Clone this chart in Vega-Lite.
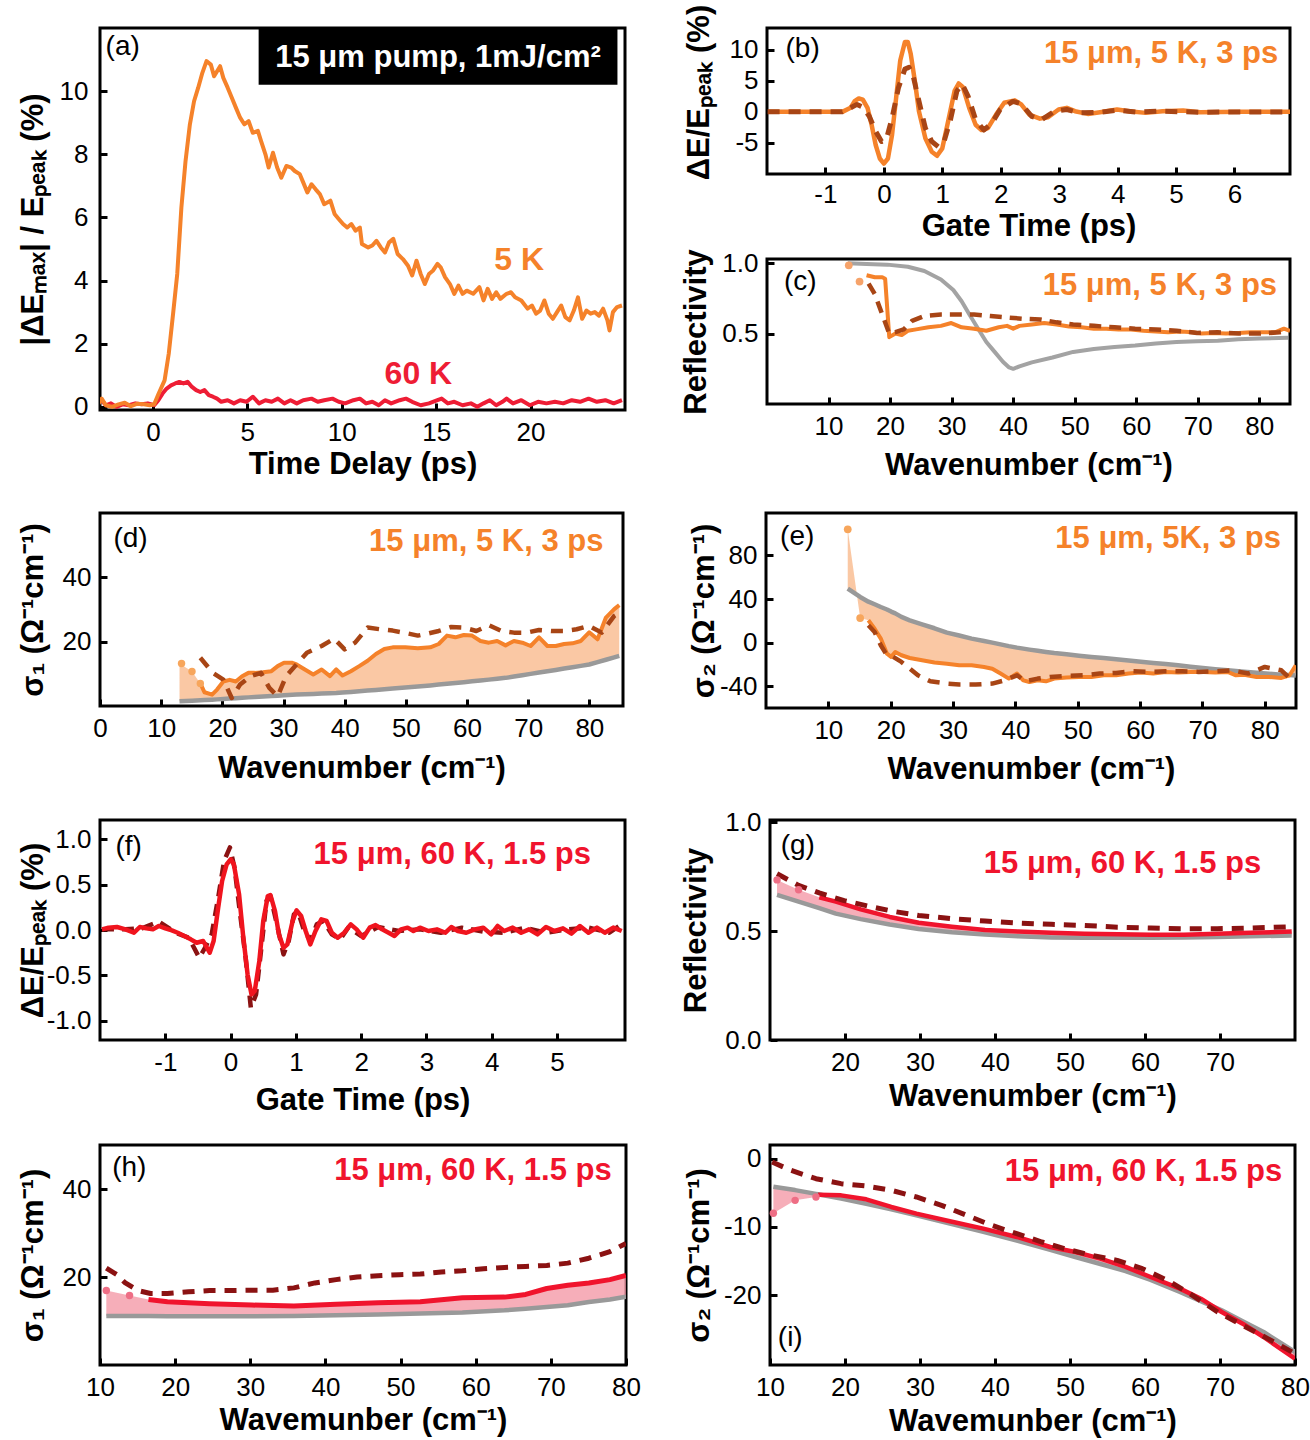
{
  "$schema": "https://vega.github.io/schema/vega-lite/v6.json",
  "background": "white",
  "padding": {"left": 15, "top": 2, "right": 5, "bottom": 5},
  "config": {
    "view": {"stroke": "black", "strokeWidth": 3},
    "axis": {
      "domain": false, "grid": false, "ticks": true, "tickSize": -7, "tickWidth": 3, "tickColor": "black",
      "labelFont": "Liberation Sans", "labelFontSize": 26, "labelColor": "black", "labelPadding": 16,
      "labelFlush": false, "labelOverlap": false,
      "titleFont": "Liberation Sans", "titleFontSize": 31, "titleFontWeight": "bold", "titleColor": "black", "titlePadding": 8
    },
    "text": {"font": "Liberation Sans"},
    "line": {"strokeJoin": "round"}
  },
  "datasets": {
    "a_5K": [{"w":-2.93,"v":0.05},{"w":-2.71,"v":0.26},{"w":-2.49,"v":0.05},{"w":-2.16,"v":0.0},{"w":-1.82,"v":0.08},{"w":-1.49,"v":0.13},{"w":-1.16,"v":0.02},{"w":-0.82,"v":0.1},{"w":-0.49,"v":0.08},{"w":-0.16,"v":0.05},{"w":0.07,"v":0.08},{"w":0.29,"v":0.4},{"w":0.62,"v":0.84},{"w":0.84,"v":1.68},{"w":1.07,"v":2.95},{"w":1.29,"v":4.21},{"w":1.51,"v":6.32},{"w":1.73,"v":7.79},{"w":1.96,"v":8.95},{"w":2.18,"v":9.68},{"w":2.4,"v":10.11},{"w":2.62,"v":10.58},{"w":2.84,"v":10.95},{"w":3.07,"v":10.84},{"w":3.24,"v":10.47},{"w":3.4,"v":10.63},{"w":3.56,"v":10.79},{"w":3.73,"v":10.42},{"w":3.96,"v":10.11},{"w":4.18,"v":9.79},{"w":4.4,"v":9.47},{"w":4.62,"v":9.16},{"w":4.84,"v":8.95},{"w":5.07,"v":9.05},{"w":5.29,"v":8.68},{"w":5.56,"v":8.74},{"w":5.73,"v":8.42},{"w":5.96,"v":8.0},{"w":6.13,"v":7.58},{"w":6.36,"v":8.05},{"w":6.58,"v":7.58},{"w":6.8,"v":7.26},{"w":7.07,"v":7.63},{"w":7.33,"v":7.58},{"w":7.51,"v":7.47},{"w":7.78,"v":7.37},{"w":7.96,"v":7.11},{"w":8.18,"v":6.79},{"w":8.4,"v":7.05},{"w":8.62,"v":6.89},{"w":8.84,"v":6.74},{"w":9.07,"v":6.42},{"w":9.4,"v":6.53},{"w":9.62,"v":6.11},{"w":9.84,"v":5.95},{"w":10.07,"v":5.79},{"w":10.29,"v":5.68},{"w":10.51,"v":5.79},{"w":10.73,"v":5.58},{"w":10.96,"v":5.68},{"w":11.07,"v":5.16},{"w":11.4,"v":5.05},{"w":11.62,"v":5.11},{"w":11.84,"v":5.26},{"w":12.07,"v":5.05},{"w":12.29,"v":4.89},{"w":12.51,"v":5.21},{"w":12.73,"v":5.32},{"w":12.96,"v":4.84},{"w":13.24,"v":4.68},{"w":13.51,"v":4.47},{"w":13.73,"v":4.16},{"w":13.96,"v":4.63},{"w":14.18,"v":4.21},{"w":14.4,"v":3.89},{"w":14.62,"v":4.21},{"w":14.84,"v":4.32},{"w":15.07,"v":4.53},{"w":15.24,"v":4.42},{"w":15.47,"v":4.11},{"w":15.73,"v":3.89},{"w":15.96,"v":3.58},{"w":16.18,"v":3.84},{"w":16.4,"v":3.58},{"w":16.62,"v":3.68},{"w":16.96,"v":3.58},{"w":17.29,"v":3.79},{"w":17.51,"v":3.37},{"w":17.73,"v":3.74},{"w":17.96,"v":3.42},{"w":18.18,"v":3.63},{"w":18.4,"v":3.42},{"w":18.73,"v":3.58},{"w":18.96,"v":3.63},{"w":19.18,"v":3.47},{"w":19.51,"v":3.37},{"w":19.84,"v":3.11},{"w":20.07,"v":3.21},{"w":20.29,"v":2.95},{"w":20.51,"v":3.05},{"w":20.73,"v":3.37},{"w":20.96,"v":2.95},{"w":21.18,"v":2.79},{"w":21.4,"v":3.0},{"w":21.62,"v":3.21},{"w":21.84,"v":2.84},{"w":22.07,"v":2.74},{"w":22.29,"v":3.05},{"w":22.51,"v":3.47},{"w":22.73,"v":2.79},{"w":22.96,"v":3.05},{"w":23.18,"v":2.95},{"w":23.4,"v":3.0},{"w":23.62,"v":2.89},{"w":23.84,"v":3.11},{"w":24.07,"v":2.74},{"w":24.18,"v":2.42},{"w":24.36,"v":3.0},{"w":24.58,"v":3.16},{"w":24.84,"v":3.21}],
    "a_60K": [{"w":-2.93,"v":0.16},{"w":-2.71,"v":0.21},{"w":-2.49,"v":0.05},{"w":-2.22,"v":0.11},{"w":-1.93,"v":0.0},{"w":-1.6,"v":0.08},{"w":-1.27,"v":0.05},{"w":-0.93,"v":0.11},{"w":-0.6,"v":0.08},{"w":-0.27,"v":0.11},{"w":0.07,"v":0.05},{"w":0.29,"v":0.21},{"w":0.51,"v":0.42},{"w":0.73,"v":0.58},{"w":0.96,"v":0.68},{"w":1.18,"v":0.74},{"w":1.4,"v":0.79},{"w":1.62,"v":0.74},{"w":1.84,"v":0.79},{"w":2.07,"v":0.63},{"w":2.29,"v":0.53},{"w":2.51,"v":0.47},{"w":2.73,"v":0.53},{"w":2.96,"v":0.37},{"w":3.18,"v":0.32},{"w":3.4,"v":0.26},{"w":3.62,"v":0.16},{"w":3.96,"v":0.21},{"w":4.29,"v":0.11},{"w":4.62,"v":0.21},{"w":4.96,"v":0.16},{"w":5.29,"v":0.32},{"w":5.62,"v":0.11},{"w":5.96,"v":0.21},{"w":6.29,"v":0.16},{"w":6.62,"v":0.26},{"w":6.96,"v":0.11},{"w":7.29,"v":0.21},{"w":7.62,"v":0.11},{"w":7.96,"v":0.21},{"w":8.4,"v":0.26},{"w":8.73,"v":0.16},{"w":9.07,"v":0.21},{"w":9.51,"v":0.26},{"w":9.84,"v":0.16},{"w":10.18,"v":0.11},{"w":10.62,"v":0.21},{"w":10.96,"v":0.26},{"w":11.29,"v":0.11},{"w":11.62,"v":0.16},{"w":11.96,"v":0.05},{"w":12.29,"v":0.21},{"w":12.62,"v":0.11},{"w":13.07,"v":0.21},{"w":13.4,"v":0.26},{"w":13.73,"v":0.16},{"w":14.18,"v":0.05},{"w":14.62,"v":0.11},{"w":15.07,"v":0.21},{"w":15.29,"v":0.26},{"w":15.62,"v":0.11},{"w":15.96,"v":0.16},{"w":16.4,"v":0.05},{"w":16.84,"v":0.11},{"w":17.18,"v":0.0},{"w":17.51,"v":0.11},{"w":17.84,"v":0.21},{"w":18.18,"v":0.05},{"w":18.51,"v":0.16},{"w":18.73,"v":0.26},{"w":19.07,"v":0.11},{"w":19.51,"v":0.21},{"w":19.96,"v":0.05},{"w":20.4,"v":0.16},{"w":20.84,"v":0.11},{"w":21.29,"v":0.16},{"w":21.73,"v":0.11},{"w":22.18,"v":0.21},{"w":22.62,"v":0.16},{"w":23.07,"v":0.26},{"w":23.51,"v":0.16},{"w":23.96,"v":0.21},{"w":24.4,"v":0.11},{"w":24.84,"v":0.21}],
    "b_meas": [{"w":-1.96,"v":0},{"w":-0.71,"v":0},{"w":-0.57,"v":0.65},{"w":-0.5,"v":1.74},{"w":-0.43,"v":2.17},{"w":-0.36,"v":1.96},{"w":-0.28,"v":0.65},{"w":-0.21,"v":-2.07},{"w":-0.14,"v":-5.33},{"w":-0.07,"v":-7.5},{"w":0.0,"v":-8.32},{"w":0.07,"v":-7.5},{"w":0.14,"v":-3.7},{"w":0.21,"v":2.28},{"w":0.28,"v":8.26},{"w":0.36,"v":11.25},{"w":0.41,"v":11.25},{"w":0.46,"v":9.3},{"w":0.53,"v":4.98},{"w":0.6,"v":0.11},{"w":0.71,"v":-4.24},{"w":0.82,"v":-6.41},{"w":0.91,"v":-7.07},{"w":1.0,"v":-5.87},{"w":1.1,"v":-1.52},{"w":1.21,"v":3.37},{"w":1.28,"v":4.57},{"w":1.35,"v":4.02},{"w":1.46,"v":0.65},{"w":1.57,"v":-2.07},{"w":1.67,"v":-2.93},{"w":1.78,"v":-2.61},{"w":1.92,"v":-0.43},{"w":2.06,"v":1.47},{"w":2.24,"v":1.85},{"w":2.35,"v":1.2},{"w":2.49,"v":-0.43},{"w":2.67,"v":-1.09},{"w":2.81,"v":-0.87},{"w":2.99,"v":0.38},{"w":3.13,"v":0.65},{"w":3.27,"v":0.11},{"w":3.49,"v":-0.33},{"w":3.7,"v":-0.05},{"w":3.99,"v":0.38},{"w":4.2,"v":0.11},{"w":4.48,"v":-0.16},{"w":4.77,"v":0.11},{"w":5.12,"v":0.22},{"w":5.41,"v":-0.05},{"w":6.12,"v":0},{"w":6.98,"v":0}],
    "b_fit": [{"w":-1.99,"v":0},{"w":-0.71,"v":0},{"w":-0.57,"v":0.65},{"w":-0.46,"v":1.2},{"w":-0.36,"v":0.76},{"w":-0.25,"v":-0.71},{"w":-0.14,"v":-3.15},{"w":-0.04,"v":-4.78},{"w":0.04,"v":-4.51},{"w":0.14,"v":-0.98},{"w":0.25,"v":3.91},{"w":0.36,"v":6.9},{"w":0.43,"v":7.17},{"w":0.5,"v":5.82},{"w":0.6,"v":1.74},{"w":0.71,"v":-2.61},{"w":0.82,"v":-4.78},{"w":0.93,"v":-5.6},{"w":1.03,"v":-4.78},{"w":1.14,"v":-1.25},{"w":1.25,"v":3.37},{"w":1.34,"v":4.46},{"w":1.44,"v":2.55},{"w":1.57,"v":-1.25},{"w":1.71,"v":-2.93},{"w":1.85,"v":-1.79},{"w":1.99,"v":0.38},{"w":2.21,"v":1.68},{"w":2.35,"v":1.3},{"w":2.53,"v":-0.71},{"w":2.7,"v":-1.25},{"w":2.92,"v":0.11},{"w":3.13,"v":0.38},{"w":3.35,"v":-0.16},{"w":3.7,"v":-0.05},{"w":3.99,"v":0.27},{"w":4.34,"v":-0.05},{"w":4.7,"v":0.11},{"w":5.41,"v":-0.05},{"w":6.98,"v":0}],
    "c_eq": [{"w":13.16,"v":1.0},{"w":16.18,"v":0.995},{"w":19.54,"v":0.99},{"w":22.89,"v":0.975},{"w":25.58,"v":0.945},{"w":28.27,"v":0.885},{"w":30.28,"v":0.81},{"w":31.63,"v":0.73},{"w":32.97,"v":0.63},{"w":34.31,"v":0.535},{"w":35.65,"v":0.44},{"w":37.0,"v":0.37},{"w":38.34,"v":0.3},{"w":39.35,"v":0.26},{"w":40.02,"v":0.25},{"w":41.03,"v":0.267},{"w":43.04,"v":0.296},{"w":46.4,"v":0.33},{"w":49.76,"v":0.37},{"w":53.12,"v":0.39},{"w":56.47,"v":0.405},{"w":59.83,"v":0.415},{"w":63.19,"v":0.43},{"w":66.55,"v":0.44},{"w":69.91,"v":0.445},{"w":73.26,"v":0.45},{"w":76.62,"v":0.46},{"w":79.98,"v":0.465},{"w":84.68,"v":0.47}],
    "c_meas": [{"w":16.18,"v":0.915},{"w":17.52,"v":0.9},{"w":18.73,"v":0.9},{"w":19.2,"v":0.89},{"w":19.87,"v":0.475},{"w":20.88,"v":0.5},{"w":21.89,"v":0.49},{"w":22.89,"v":0.52},{"w":24.24,"v":0.53},{"w":26.25,"v":0.545},{"w":28.27,"v":0.555},{"w":29.95,"v":0.575},{"w":31.63,"v":0.545},{"w":33.64,"v":0.535},{"w":35.65,"v":0.52},{"w":37.67,"v":0.545},{"w":39.01,"v":0.555},{"w":40.02,"v":0.535},{"w":41.03,"v":0.555},{"w":43.04,"v":0.565},{"w":45.06,"v":0.575},{"w":47.07,"v":0.565},{"w":49.09,"v":0.55},{"w":51.1,"v":0.545},{"w":53.12,"v":0.535},{"w":55.13,"v":0.535},{"w":57.15,"v":0.53},{"w":59.16,"v":0.53},{"w":61.18,"v":0.52},{"w":63.19,"v":0.515},{"w":65.2,"v":0.51},{"w":67.22,"v":0.515},{"w":69.23,"v":0.51},{"w":70.58,"v":0.5},{"w":72.59,"v":0.505},{"w":74.61,"v":0.5},{"w":76.62,"v":0.505},{"w":78.64,"v":0.51},{"w":80.65,"v":0.51},{"w":82.67,"v":0.51},{"w":84.01,"v":0.535},{"w":85.0,"v":0.52}],
    "c_dots": [{"w":13.29,"v":0.985},{"w":15.04,"v":0.87}],
    "c_fit": [{"w":16.51,"v":0.855},{"w":17.52,"v":0.78},{"w":18.87,"v":0.62},{"w":19.87,"v":0.5},{"w":20.88,"v":0.51},{"w":22.22,"v":0.53},{"w":23.57,"v":0.59},{"w":25.58,"v":0.625},{"w":28.27,"v":0.635},{"w":30.95,"v":0.635},{"w":33.64,"v":0.635},{"w":36.33,"v":0.625},{"w":39.01,"v":0.615},{"w":41.7,"v":0.605},{"w":44.39,"v":0.6},{"w":47.07,"v":0.58},{"w":49.76,"v":0.565},{"w":53.12,"v":0.555},{"w":56.47,"v":0.545},{"w":59.83,"v":0.535},{"w":63.19,"v":0.53},{"w":66.55,"v":0.52},{"w":69.91,"v":0.505},{"w":73.26,"v":0.51},{"w":76.62,"v":0.5},{"w":79.98,"v":0.5},{"w":83.34,"v":0.51},{"w":84.68,"v":0.52}],
    "d_band": [{"w":13.0,"v":13.2,"v2":1.46},{"w":15.04,"v":10.7,"v2":1.66},{"w":16.4,"v":7.0,"v2":1.8},{"w":17.09,"v":4.27,"v2":1.85},{"w":18.32,"v":3.54,"v2":1.97},{"w":19.14,"v":5.1,"v2":2.06},{"w":20.16,"v":7.6,"v2":2.18},{"w":21.19,"v":8.13,"v2":2.3},{"w":22.21,"v":7.6,"v2":2.43},{"w":23.24,"v":9.27,"v2":2.55},{"w":24.27,"v":10.3,"v2":2.68},{"w":25.29,"v":10.3,"v2":2.81},{"w":26.66,"v":10.52,"v2":2.96},{"w":28.02,"v":10.83,"v2":3.1},{"w":29.05,"v":12.4,"v2":3.21},{"w":30.08,"v":13.44,"v2":3.32},{"w":31.44,"v":13.44,"v2":3.47},{"w":32.13,"v":12.92,"v2":3.54},{"w":33.49,"v":11.35,"v2":3.64},{"w":34.86,"v":9.79,"v2":3.75},{"w":36.23,"v":11.35,"v2":3.85},{"w":37.59,"v":9.27,"v2":3.96},{"w":38.62,"v":11.35,"v2":4.03},{"w":39.64,"v":9.48,"v2":4.16},{"w":41.01,"v":10.83,"v2":4.37},{"w":42.38,"v":12.4,"v2":4.58},{"w":43.75,"v":14.06,"v2":4.79},{"w":45.11,"v":16.15,"v2":5.0},{"w":46.48,"v":17.71,"v2":5.2},{"w":47.85,"v":18.23,"v2":5.41},{"w":49.9,"v":18.23,"v2":5.73},{"w":51.95,"v":17.92,"v2":6.05},{"w":54.0,"v":18.23,"v2":6.4},{"w":55.37,"v":19.27,"v2":6.65},{"w":56.73,"v":21.88,"v2":6.9},{"w":58.1,"v":21.35,"v2":7.15},{"w":59.47,"v":22.08,"v2":7.4},{"w":60.83,"v":21.88,"v2":7.67},{"w":62.2,"v":20.21,"v2":7.94},{"w":63.57,"v":19.69,"v2":8.2},{"w":64.93,"v":20.21,"v2":8.48},{"w":66.3,"v":18.85,"v2":8.75},{"w":67.67,"v":20.21,"v2":9.16},{"w":69.04,"v":19.69,"v2":9.57},{"w":70.4,"v":18.65,"v2":9.98},{"w":71.77,"v":21.35,"v2":10.39},{"w":73.14,"v":18.65,"v2":10.8},{"w":74.5,"v":18.65,"v2":11.22},{"w":75.87,"v":19.27,"v2":11.64},{"w":77.24,"v":19.48,"v2":12.06},{"w":78.61,"v":20.21,"v2":12.48},{"w":79.97,"v":22.92,"v2":12.9},{"w":81.34,"v":20.73,"v2":13.64},{"w":82.71,"v":27.5,"v2":14.38},{"w":84.07,"v":30.1,"v2":15.12},{"w":84.89,"v":31.35,"v2":15.57}],
    "d_dots": [{"w":13.33,"v":13.2},{"w":15.04,"v":10.7},{"w":16.4,"v":7.0}],
    "d_fit": [{"w":16.4,"v":15.0},{"w":18.46,"v":10.3},{"w":20.16,"v":8.23},{"w":21.53,"v":2.5},{"w":22.9,"v":6.67},{"w":24.61,"v":9.27},{"w":26.32,"v":10.3},{"w":27.68,"v":5.63},{"w":29.05,"v":3.0},{"w":30.42,"v":9.27},{"w":32.13,"v":12.92},{"w":33.83,"v":16.56},{"w":36.23,"v":18.65},{"w":38.28,"v":20.94},{"w":39.99,"v":17.6},{"w":41.7,"v":19.69},{"w":43.75,"v":24.38},{"w":45.8,"v":23.85},{"w":47.85,"v":23.44},{"w":49.9,"v":22.71},{"w":51.95,"v":21.88},{"w":53.31,"v":22.4},{"w":55.37,"v":23.33},{"w":57.42,"v":24.58},{"w":59.47,"v":24.38},{"w":61.52,"v":23.33},{"w":63.57,"v":25.1},{"w":65.62,"v":23.33},{"w":67.67,"v":22.81},{"w":69.72,"v":22.81},{"w":71.77,"v":23.65},{"w":73.82,"v":23.33},{"w":75.87,"v":23.33},{"w":77.92,"v":23.85},{"w":79.97,"v":24.9},{"w":82.02,"v":22.81},{"w":84.07,"v":28.02},{"w":85.0,"v":29.06}],
    "e_band": [{"w":13.11,"v":104,"v2":49.5},{"w":15.1,"v":22.6,"v2":41.9},{"w":16.42,"v":20.5,"v2":37.6},{"w":17.42,"v":12.8,"v2":35.2},{"w":18.41,"v":3.7,"v2":32.7},{"w":19.4,"v":-10.1,"v2":30.4},{"w":20.07,"v":-13.1,"v2":28.5},{"w":20.73,"v":-8.6,"v2":26.9},{"w":21.72,"v":-11.6,"v2":23.6},{"w":23.05,"v":-14.1,"v2":20.5},{"w":25.03,"v":-16.2,"v2":16.8},{"w":27.02,"v":-18.3,"v2":13.2},{"w":29.01,"v":-19.3,"v2":9.2},{"w":30.99,"v":-20.8,"v2":6.5},{"w":32.98,"v":-20.8,"v2":3.7},{"w":34.97,"v":-22.3,"v2":1.5},{"w":36.29,"v":-23.9,"v2":0},{"w":37.62,"v":-28.4,"v2":-1.6},{"w":38.94,"v":-33.0,"v2":-3.2},{"w":40.26,"v":-28.4,"v2":-4.6},{"w":41.26,"v":-34.6,"v2":-5.5},{"w":42.25,"v":-36.1,"v2":-6.4},{"w":43.58,"v":-34.6,"v2":-7.5},{"w":44.9,"v":-35.5,"v2":-8.5},{"w":46.23,"v":-33.0,"v2":-9.5},{"w":48.21,"v":-32.1,"v2":-10.7},{"w":50.2,"v":-31.5,"v2":-12.0},{"w":52.19,"v":-31.5,"v2":-13.1},{"w":54.17,"v":-30.0,"v2":-14.1},{"w":56.16,"v":-30.0,"v2":-15.3},{"w":58.15,"v":-28.4,"v2":-16.4},{"w":60.13,"v":-27.5,"v2":-17.5},{"w":62.12,"v":-28.4,"v2":-18.6},{"w":64.11,"v":-26.9,"v2":-19.7},{"w":66.09,"v":-27.5,"v2":-20.8},{"w":68.08,"v":-26.9,"v2":-22.1},{"w":70.07,"v":-26.9,"v2":-23.3},{"w":72.05,"v":-27.5,"v2":-24.4},{"w":74.04,"v":-26.9,"v2":-25.4},{"w":75.36,"v":-30.0,"v2":-26.0},{"w":76.69,"v":-29.4,"v2":-26.7},{"w":78.68,"v":-31.5,"v2":-27.7},{"w":80.66,"v":-31.5,"v2":-28.6},{"w":82.65,"v":-32.4,"v2":-29.4},{"w":83.97,"v":-30.0,"v2":-29.8},{"w":84.97,"v":-20.8,"v2":-30.1}],
    "e_dots": [{"w":13.11,"v":104},{"w":15.1,"v":22.6}],
    "e_fit": [{"w":16.42,"v":15.9},{"w":17.42,"v":9.8},{"w":18.41,"v":-2.4},{"w":19.4,"v":-11.6},{"w":20.4,"v":-13.1},{"w":21.72,"v":-17.7},{"w":23.05,"v":-23.9},{"w":24.37,"v":-30.0},{"w":26.36,"v":-35.5},{"w":29.01,"v":-37.6},{"w":30.99,"v":-38.5},{"w":33.64,"v":-38.5},{"w":36.29,"v":-37.6},{"w":38.28,"v":-34.6},{"w":40.26,"v":-30.0},{"w":41.59,"v":-35.5},{"w":43.58,"v":-33.0},{"w":45.56,"v":-31.5},{"w":48.21,"v":-30.6},{"w":50.86,"v":-30.0},{"w":53.51,"v":-28.4},{"w":56.16,"v":-27.8},{"w":58.81,"v":-26.3},{"w":61.46,"v":-26.9},{"w":64.11,"v":-26.3},{"w":66.75,"v":-26.3},{"w":69.4,"v":-26.9},{"w":72.05,"v":-26.3},{"w":74.7,"v":-25.4},{"w":77.35,"v":-28.4},{"w":80.0,"v":-22.3},{"w":82.65,"v":-25.4},{"w":84.64,"v":-36.1}],
    "f_meas": [{"w":-1.97,"v":0.007},{"w":-1.87,"v":0.026},{"w":-1.74,"v":0.033},{"w":-1.61,"v":0.007},{"w":-1.48,"v":-0.03},{"w":-1.39,"v":0.033},{"w":-1.29,"v":0.018},{"w":-1.19,"v":0.007},{"w":-1.1,"v":0.044},{"w":-1.0,"v":0.018},{"w":-0.9,"v":-0.004},{"w":-0.81,"v":-0.03},{"w":-0.71,"v":-0.066},{"w":-0.61,"v":-0.103},{"w":-0.52,"v":-0.14},{"w":-0.42,"v":-0.121},{"w":-0.32,"v":-0.25},{"w":-0.26,"v":-0.121},{"w":-0.19,"v":0.246},{"w":-0.13,"v":0.539},{"w":-0.06,"v":0.723},{"w":0.0,"v":0.778},{"w":0.05,"v":0.723},{"w":0.13,"v":0.392},{"w":0.19,"v":-0.048},{"w":0.26,"v":-0.488},{"w":0.32,"v":-0.708},{"w":0.37,"v":-0.671},{"w":0.44,"v":-0.341},{"w":0.5,"v":0.099},{"w":0.57,"v":0.374},{"w":0.61,"v":0.385},{"w":0.68,"v":0.209},{"w":0.74,"v":-0.048},{"w":0.81,"v":-0.195},{"w":0.87,"v":-0.158},{"w":0.95,"v":0.099},{"w":1.01,"v":0.216},{"w":1.08,"v":0.154},{"w":1.15,"v":-0.011},{"w":1.22,"v":-0.158},{"w":1.3,"v":-0.011},{"w":1.39,"v":0.117},{"w":1.47,"v":0.099},{"w":1.55,"v":-0.03},{"w":1.64,"v":-0.085},{"w":1.74,"v":-0.03},{"w":1.84,"v":0.062},{"w":1.93,"v":0.007},{"w":2.03,"v":-0.085},{"w":2.13,"v":0.026},{"w":2.22,"v":0.055},{"w":2.32,"v":0.007},{"w":2.42,"v":-0.03},{"w":2.51,"v":-0.066},{"w":2.61,"v":0.007},{"w":2.71,"v":0.026},{"w":2.8,"v":-0.011},{"w":2.9,"v":0.026},{"w":3.03,"v":-0.011},{"w":3.16,"v":0.007},{"w":3.29,"v":-0.03},{"w":3.38,"v":0.033},{"w":3.48,"v":-0.011},{"w":3.61,"v":-0.03},{"w":3.74,"v":0.007},{"w":3.87,"v":0.026},{"w":3.99,"v":-0.048},{"w":4.09,"v":0.044},{"w":4.19,"v":-0.011},{"w":4.32,"v":0.026},{"w":4.45,"v":-0.03},{"w":4.57,"v":0.007},{"w":4.7,"v":-0.048},{"w":4.83,"v":0.033},{"w":4.96,"v":-0.011},{"w":5.09,"v":0.018},{"w":5.22,"v":-0.04},{"w":5.35,"v":0.044},{"w":5.48,"v":-0.03},{"w":5.61,"v":0.026},{"w":5.73,"v":-0.03},{"w":5.86,"v":0.026},{"w":5.99,"v":-0.011}],
    "f_fit": [{"w":-1.97,"v":0.007},{"w":-1.61,"v":0.007},{"w":-1.35,"v":0.02},{"w":-1.1,"v":0.092},{"w":-0.84,"v":-0.03},{"w":-0.64,"v":-0.085},{"w":-0.48,"v":-0.305},{"w":-0.39,"v":-0.195},{"w":-0.29,"v":-0.048},{"w":-0.19,"v":0.356},{"w":-0.1,"v":0.76},{"w":-0.01,"v":0.908},{"w":0.06,"v":0.686},{"w":0.14,"v":0.209},{"w":0.23,"v":-0.305},{"w":0.31,"v":-0.855},{"w":0.39,"v":-0.708},{"w":0.46,"v":-0.268},{"w":0.55,"v":0.319},{"w":0.61,"v":0.374},{"w":0.71,"v":0.062},{"w":0.81,"v":-0.268},{"w":0.89,"v":-0.121},{"w":0.97,"v":0.172},{"w":1.03,"v":0.209},{"w":1.11,"v":0.026},{"w":1.22,"v":-0.121},{"w":1.32,"v":0.062},{"w":1.42,"v":0.099},{"w":1.55,"v":-0.048},{"w":1.68,"v":-0.103},{"w":1.8,"v":0.026},{"w":2.0,"v":-0.066},{"w":2.26,"v":0.033},{"w":2.58,"v":-0.011},{"w":2.9,"v":0.007},{"w":3.22,"v":-0.03},{"w":3.54,"v":0.026},{"w":3.87,"v":-0.018},{"w":4.19,"v":-0.03},{"w":4.51,"v":0.026},{"w":4.83,"v":-0.03},{"w":5.15,"v":0.007},{"w":5.48,"v":0.026},{"w":5.8,"v":-0.03},{"w":5.99,"v":0.062}],
    "g_band": [{"w":10.94,"v":0.735,"v2":0.666},{"w":13.81,"v":0.69,"v2":0.635},{"w":16.57,"v":0.655,"v2":0.605},{"w":18.78,"v":0.635,"v2":0.58},{"w":22.1,"v":0.6,"v2":0.555},{"w":25.97,"v":0.565,"v2":0.53},{"w":29.83,"v":0.538,"v2":0.51},{"w":34.25,"v":0.52,"v2":0.495},{"w":38.67,"v":0.505,"v2":0.484},{"w":43.09,"v":0.498,"v2":0.476},{"w":47.51,"v":0.492,"v2":0.471},{"w":51.93,"v":0.488,"v2":0.469},{"w":56.35,"v":0.485,"v2":0.469},{"w":60.77,"v":0.483,"v2":0.469},{"w":65.19,"v":0.483,"v2":0.47},{"w":69.61,"v":0.488,"v2":0.473},{"w":74.03,"v":0.492,"v2":0.476},{"w":79.56,"v":0.498,"v2":0.48}],
    "g_dots": [{"w":10.94,"v":0.735},{"w":13.81,"v":0.69}],
    "g_fit": [{"w":10.94,"v":0.763},{"w":13.81,"v":0.71},{"w":16.57,"v":0.675},{"w":19.89,"v":0.64},{"w":23.2,"v":0.614},{"w":26.52,"v":0.59},{"w":29.83,"v":0.572},{"w":34.25,"v":0.557},{"w":38.67,"v":0.546},{"w":43.09,"v":0.537},{"w":47.51,"v":0.531},{"w":51.93,"v":0.526},{"w":56.35,"v":0.518},{"w":60.77,"v":0.514},{"w":65.19,"v":0.511},{"w":69.61,"v":0.511},{"w":74.03,"v":0.514},{"w":79.56,"v":0.52}],
    "h_band": [{"w":10.84,"v":16.93,"v2":11.16},{"w":13.93,"v":15.81,"v2":11.16},{"w":16.45,"v":14.91,"v2":11.16},{"w":18.97,"v":14.38,"v2":11.1},{"w":24.58,"v":13.93,"v2":11.1},{"w":30.19,"v":13.63,"v2":11.1},{"w":35.8,"v":13.41,"v2":11.16},{"w":41.41,"v":13.78,"v2":11.31},{"w":47.02,"v":14.16,"v2":11.5},{"w":52.62,"v":14.38,"v2":11.69},{"w":58.23,"v":15.28,"v2":11.91},{"w":63.84,"v":15.43,"v2":12.43},{"w":66.65,"v":16.03,"v2":12.8},{"w":69.45,"v":17.38,"v2":13.18},{"w":72.25,"v":18.13,"v2":13.6},{"w":75.06,"v":18.65,"v2":14.31},{"w":77.86,"v":19.4,"v2":14.9},{"w":79.99,"v":20.37,"v2":15.51}],
    "h_dots": [{"w":10.84,"v":16.93},{"w":13.93,"v":15.81}],
    "h_fit": [{"w":10.84,"v":22.02},{"w":12.24,"v":20.52},{"w":13.37,"v":18.65},{"w":15.05,"v":16.93},{"w":16.73,"v":16.25},{"w":18.97,"v":16.25},{"w":21.78,"v":16.63},{"w":24.58,"v":16.93},{"w":27.39,"v":16.93},{"w":30.19,"v":17.0},{"w":33.0,"v":17.0},{"w":35.8,"v":17.53},{"w":38.6,"v":18.65},{"w":41.41,"v":19.4},{"w":44.21,"v":20.0},{"w":47.02,"v":20.3},{"w":49.82,"v":20.52},{"w":52.62,"v":20.67},{"w":55.43,"v":21.12},{"w":58.23,"v":21.42},{"w":61.04,"v":21.87},{"w":63.84,"v":22.17},{"w":66.65,"v":22.4},{"w":69.45,"v":22.62},{"w":72.25,"v":23.15},{"w":75.06,"v":24.27},{"w":77.86,"v":25.77},{"w":79.99,"v":27.64}],
    "i_band": [{"w":10.45,"v":-8.0,"v2":-4.1},{"w":13.35,"v":-6.1,"v2":-4.6},{"w":16.13,"v":-5.6,"v2":-5.15},{"w":16.41,"v":-5.27,"v2":-5.2},{"w":19.48,"v":-5.37,"v2":-5.85},{"w":22.83,"v":-5.95,"v2":-6.6},{"w":26.17,"v":-7.07,"v2":-7.4},{"w":29.52,"v":-8.05,"v2":-8.29},{"w":33.98,"v":-9.17,"v2":-9.51},{"w":38.44,"v":-10.24,"v2":-10.7},{"w":42.91,"v":-11.46,"v2":-11.98},{"w":47.37,"v":-12.93,"v2":-13.36},{"w":50.71,"v":-13.66,"v2":-14.39},{"w":54.06,"v":-14.63,"v2":-15.42},{"w":57.41,"v":-15.85,"v2":-16.45},{"w":60.75,"v":-17.32,"v2":-17.75},{"w":64.66,"v":-19.02,"v2":-19.51},{"w":67.45,"v":-20.49,"v2":-20.85},{"w":70.23,"v":-22.44,"v2":-22.2},{"w":73.02,"v":-24.15,"v2":-23.8},{"w":75.81,"v":-26.1,"v2":-25.37},{"w":80.0,"v":-29.27,"v2":-28.29}],
    "i_dots": [{"w":10.45,"v":-8.0},{"w":13.35,"v":-6.1},{"w":16.13,"v":-5.6}],
    "i_fit": [{"w":10.28,"v":-0.49},{"w":12.79,"v":-1.71},{"w":16.13,"v":-2.93},{"w":19.48,"v":-3.66},{"w":22.83,"v":-4.0},{"w":26.17,"v":-4.63},{"w":29.52,"v":-5.61},{"w":32.87,"v":-6.83},{"w":36.21,"v":-8.29},{"w":39.56,"v":-9.76},{"w":42.91,"v":-10.98},{"w":46.25,"v":-12.2},{"w":49.6,"v":-13.27},{"w":52.94,"v":-14.15},{"w":56.29,"v":-14.88},{"w":59.64,"v":-16.1},{"w":62.98,"v":-17.8},{"w":66.33,"v":-20.0},{"w":69.68,"v":-22.44},{"w":73.02,"v":-24.39},{"w":76.37,"v":-26.34},{"w":80.0,"v":-28.54}]
  },
  "spacing": 26,
  "vconcat": [
    {
      "spacing": 21,
      "vconcat": [
        {
          "spacing": 29,
          "vconcat": [
            {
              "spacing": 51,
              "hconcat": [
                {
                  "width": 525, "height": 382,
                  "layer": [
                    {
                      "encoding": {
                        "x": {"field": "w", "type": "quantitative", "scale": {"domain": [-2.8, 25], "nice": false, "zero": false}, "axis": {"values": [0, 5, 10, 15, 20], "title": "Time Delay (ps)", "titlePadding": 4}},
                        "y": {"field": "v", "type": "quantitative", "scale": {"domain": [-0.1, 12.0], "nice": false, "zero": false}, "axis": {"values": [0, 2, 4, 6, 8, 10], "title": "|ΔEₘₐₓ| / Eₚₑₐₖ (%)", "titleX": -51, "labelPadding": 19}}
                      },
                      "layer": [
                        {"data": {"name": "a_60K"}, "mark": {"type": "line", "color": "#EE1D35", "strokeWidth": 4, "clip": true}},
                        {"data": {"name": "a_5K"}, "mark": {"type": "line", "color": "#F5822A", "strokeWidth": 4, "clip": true}}
                      ]
                    },
                    {"data": {"values": [{}]}, "mark": {"type": "rect", "color": "black"}, "encoding": {"x": {"datum": 5.6}, "x2": {"datum": 24.6}, "y": {"datum": 12.0}, "y2": {"datum": 10.2}}},
                    {"data": {"values": [{}]}, "mark": {"type": "text", "color": "white", "fontSize": 31, "fontWeight": "bold", "align": "center", "baseline": "middle"}, "encoding": {"x": {"datum": 15.1}, "y": {"datum": 11.05}, "text": {"value": "15 μm pump, 1mJ/cm²"}}},
                    {"data": {"values": [{}]}, "mark": {"type": "text", "color": "black", "fontSize": 28, "align": "center", "baseline": "middle"}, "encoding": {"x": {"datum": -1.6}, "y": {"datum": 11.4}, "text": {"value": "(a)"}}},
                    {"data": {"values": [{}]}, "mark": {"type": "text", "color": "#F5822A", "fontSize": 32, "fontWeight": "bold", "align": "center", "baseline": "middle"}, "encoding": {"x": {"datum": 19.4}, "y": {"datum": 4.65}, "text": {"value": "5 K"}}},
                    {"data": {"values": [{}]}, "mark": {"type": "text", "color": "#EE1D35", "fontSize": 32, "fontWeight": "bold", "align": "center", "baseline": "middle"}, "encoding": {"x": {"datum": 14.06}, "y": {"datum": 1.05}, "text": {"value": "60 K"}}}
                  ]
                },
                {
                  "bounds": "flush",
                  "spacing": 85,
                  "vconcat": [
                    {
                      "width": 523, "height": 146,
                      "layer": [
                        {
                          "encoding": {
                            "x": {"field": "w", "type": "quantitative", "scale": {"domain": [-2, 6.95], "nice": false, "zero": false}, "axis": {"values": [-1, 0, 1, 2, 3, 4, 5, 6], "title": "Gate Time (ps)", "labelPadding": 14, "titlePadding": 4, "labelExpr": "datum.value < 0 ? '-' + format(-datum.value, 'd') : format(datum.value, 'd')"}},
                            "y": {"field": "v", "type": "quantitative", "scale": {"domain": [-10, 13.5], "nice": false, "zero": false}, "axis": {"values": [-5, 0, 5, 10], "title": "ΔE/Eₚₑₐₖ (%)", "titleX": -52, "titleY": 64, "labelExpr": "datum.value < 0 ? '-' + format(-datum.value, 'd') : format(datum.value, 'd')"}}
                          },
                          "layer": [
                            {"data": {"name": "b_meas"}, "mark": {"type": "line", "color": "#F5822A", "strokeWidth": 4.5, "clip": true}},
                            {"data": {"name": "b_fit"}, "mark": {"type": "line", "color": "#A84515", "strokeWidth": 5, "strokeDash": [12, 9], "clip": true}}
                          ]
                        },
                        {"data": {"values": [{}]}, "mark": {"type": "text", "color": "black", "fontSize": 28, "align": "center", "baseline": "middle"}, "encoding": {"x": {"datum": -1.39}, "y": {"datum": 10.1}, "text": {"value": "(b)"}}},
                        {"data": {"values": [{}]}, "mark": {"type": "text", "color": "#F5822A", "fontSize": 31, "fontWeight": "bold", "align": "right", "baseline": "middle"}, "encoding": {"x": {"datum": 6.75}, "y": {"datum": 9.3}, "text": {"value": "15 μm, 5 K, 3 ps"}}}
                      ]
                    },
                    {
                      "width": 523, "height": 145,
                      "layer": [
                        {
                          "encoding": {
                            "x": {"field": "w", "type": "quantitative", "scale": {"domain": [0, 85], "nice": false, "zero": false}, "axis": {"values": [10, 20, 30, 40, 50, 60, 70, 80], "title": "Wavenumber (cm⁻¹)", "titlePadding": 11}},
                            "y": {"field": "v", "type": "quantitative", "scale": {"domain": [0, 1.03], "nice": false, "zero": false}, "axis": {"values": [0.5, 1.0], "format": ".1f", "title": "Reflectivity", "titleX": -55}}
                          },
                          "layer": [
                            {"data": {"name": "c_eq"}, "mark": {"type": "line", "color": "#A3A3A3", "strokeWidth": 4, "clip": true}},
                            {"data": {"name": "c_meas"}, "mark": {"type": "line", "color": "#F5822A", "strokeWidth": 4, "clip": true}},
                            {"data": {"name": "c_fit"}, "mark": {"type": "line", "color": "#A84515", "strokeWidth": 4.5, "strokeDash": [12, 8], "clip": true}},
                            {"data": {"name": "c_dots"}, "mark": {"type": "circle", "color": "#F6A36A", "size": 60, "opacity": 1}}
                          ]
                        },
                        {"data": {"values": [{}]}, "mark": {"type": "text", "color": "black", "fontSize": 28, "align": "center", "baseline": "middle"}, "encoding": {"x": {"datum": 5.4}, "y": {"datum": 0.87}, "text": {"value": "(c)"}}},
                        {"data": {"values": [{}]}, "mark": {"type": "text", "color": "#F5822A", "fontSize": 31, "fontWeight": "bold", "align": "right", "baseline": "middle"}, "encoding": {"x": {"datum": 82.9}, "y": {"datum": 0.84}, "text": {"value": "15 μm, 5 K, 3 ps"}}}
                      ]
                    }
                  ]
                }
              ]
            },
            {
              "bounds": "flush",
              "spacing": 143,
              "hconcat": [
                {
                  "width": 523, "height": 193,
                  "layer": [
                    {
                      "encoding": {
                        "x": {"field": "w", "type": "quantitative", "scale": {"domain": [0, 85.5], "nice": false, "zero": false}, "axis": {"values": [0, 10, 20, 30, 40, 50, 60, 70, 80], "title": "Wavenumber (cm⁻¹)", "titlePadding": 12}},
                        "y": {"field": "v", "type": "quantitative", "scale": {"domain": [0, 60], "nice": false, "zero": false}, "axis": {"values": [20, 40], "title": "σ₁ (Ω⁻¹cm⁻¹)", "titleX": -51}}
                      },
                      "layer": [
                        {"data": {"name": "d_band"}, "mark": {"type": "area", "color": "#F9C29A", "opacity": 0.9, "clip": true}, "encoding": {"y2": {"field": "v2"}}},
                        {"data": {"name": "d_band"}, "mark": {"type": "line", "color": "#999999", "strokeWidth": 4.5, "clip": true}, "encoding": {"y": {"field": "v2", "type": "quantitative"}}},
                        {"data": {"name": "d_band"}, "transform": [{"filter": "datum.w >= 16.4"}], "mark": {"type": "line", "color": "#F5822A", "strokeWidth": 4, "clip": true}},
                        {"data": {"name": "d_fit"}, "mark": {"type": "line", "color": "#A84515", "strokeWidth": 4.5, "strokeDash": [12, 9], "clip": true}},
                        {"data": {"name": "d_dots"}, "mark": {"type": "circle", "color": "#F7A65C", "size": 55, "opacity": 1}}
                      ]
                    },
                    {"data": {"values": [{}]}, "mark": {"type": "text", "color": "black", "fontSize": 28, "align": "center", "baseline": "middle"}, "encoding": {"x": {"datum": 5.0}, "y": {"datum": 52}, "text": {"value": "(d)"}}},
                    {"data": {"values": [{}]}, "mark": {"type": "text", "color": "#F5822A", "fontSize": 31, "fontWeight": "bold", "align": "right", "baseline": "middle"}, "encoding": {"x": {"datum": 82.3}, "y": {"datum": 51}, "text": {"value": "15 μm, 5 K, 3 ps"}}}
                  ]
                },
                {
                  "width": 530, "height": 195,
                  "layer": [
                    {
                      "encoding": {
                        "x": {"field": "w", "type": "quantitative", "scale": {"domain": [0, 85], "nice": false, "zero": false}, "axis": {"values": [10, 20, 30, 40, 50, 60, 70, 80], "title": "Wavenumber (cm⁻¹)", "titlePadding": 11}},
                        "y": {"field": "v", "type": "quantitative", "scale": {"domain": [-60, 119], "nice": false, "zero": false}, "axis": {"values": [-40, 0, 40, 80], "title": "σ₂ (Ω⁻¹cm⁻¹)", "titleX": -46, "labelExpr": "datum.value < 0 ? '-' + format(-datum.value, 'd') : format(datum.value, 'd')"}}
                      },
                      "layer": [
                        {"data": {"name": "e_band"}, "mark": {"type": "area", "color": "#F9C29A", "opacity": 0.9, "clip": true}, "encoding": {"y2": {"field": "v2"}}},
                        {"data": {"name": "e_band"}, "mark": {"type": "line", "color": "#999999", "strokeWidth": 4.5, "clip": true}, "encoding": {"y": {"field": "v2", "type": "quantitative"}}},
                        {"data": {"name": "e_band"}, "transform": [{"filter": "datum.w >= 16"}], "mark": {"type": "line", "color": "#F5822A", "strokeWidth": 4, "clip": true}},
                        {"data": {"name": "e_fit"}, "mark": {"type": "line", "color": "#A84515", "strokeWidth": 4.5, "strokeDash": [12, 9], "clip": true}},
                        {"data": {"name": "e_dots"}, "mark": {"type": "circle", "color": "#F7A65C", "size": 60, "opacity": 1}}
                      ]
                    },
                    {"data": {"values": [{}]}, "mark": {"type": "text", "color": "black", "fontSize": 28, "align": "center", "baseline": "middle"}, "encoding": {"x": {"datum": 5.0}, "y": {"datum": 97}, "text": {"value": "(e)"}}},
                    {"data": {"values": [{}]}, "mark": {"type": "text", "color": "#F5822A", "fontSize": 31, "fontWeight": "bold", "align": "right", "baseline": "middle"}, "encoding": {"x": {"datum": 82.6}, "y": {"datum": 95}, "text": {"value": "15 μm, 5K, 3 ps"}}}
                  ]
                }
              ]
            }
          ]
        },
        {
          "bounds": "flush",
          "spacing": 145,
          "hconcat": [
            {
              "width": 525, "height": 220,
              "layer": [
                {
                  "encoding": {
                    "x": {"field": "w", "type": "quantitative", "scale": {"domain": [-2, 6.04], "nice": false, "zero": false}, "axis": {"values": [-1, 0, 1, 2, 3, 4, 5], "title": "Gate Time (ps)", "titlePadding": 10, "labelExpr": "datum.value < 0 ? '-' + format(-datum.value, 'd') : format(datum.value, 'd')"}},
                    "y": {"field": "v", "type": "quantitative", "scale": {"domain": [-1.21, 1.21], "nice": false, "zero": false}, "axis": {"values": [-1, -0.5, 0, 0.5, 1], "title": "ΔE/Eₚₑₐₖ (%)", "titleX": -51, "labelExpr": "datum.value < 0 ? '-' + format(-datum.value, '.1f') : format(datum.value, '.1f')"}}
                  },
                  "layer": [
                    {"data": {"name": "f_fit"}, "mark": {"type": "line", "color": "#8B1212", "strokeWidth": 4.5, "strokeDash": [12, 8], "clip": true}},
                    {"data": {"name": "f_meas"}, "mark": {"type": "line", "color": "#F0141E", "strokeWidth": 4.5, "clip": true}}
                  ]
                },
                {"data": {"values": [{}]}, "mark": {"type": "text", "color": "black", "fontSize": 28, "align": "center", "baseline": "middle"}, "encoding": {"x": {"datum": -1.56}, "y": {"datum": 0.91}, "text": {"value": "(f)"}}},
                {"data": {"values": [{}]}, "mark": {"type": "text", "color": "#F0142D", "fontSize": 31, "fontWeight": "bold", "align": "right", "baseline": "middle"}, "encoding": {"x": {"datum": 5.52}, "y": {"datum": 0.83}, "text": {"value": "15 μm, 60 K, 1.5 ps"}}}
              ]
            },
            {
              "width": 525, "height": 220,
              "layer": [
                {
                  "encoding": {
                    "x": {"field": "w", "type": "quantitative", "scale": {"domain": [10, 80], "nice": false, "zero": false}, "axis": {"values": [20, 30, 40, 50, 60, 70], "title": "Wavenumber (cm⁻¹)", "titlePadding": 6}},
                    "y": {"field": "v", "type": "quantitative", "scale": {"domain": [0, 1.01], "nice": false, "zero": false}, "axis": {"values": [0, 0.5, 1], "format": ".1f", "title": "Reflectivity", "titleX": -58}}
                  },
                  "layer": [
                    {"data": {"name": "g_band"}, "mark": {"type": "area", "color": "#F49AA8", "opacity": 0.8, "clip": true}, "encoding": {"y2": {"field": "v2"}}},
                    {"data": {"name": "g_band"}, "mark": {"type": "line", "color": "#999999", "strokeWidth": 4.5, "clip": true}, "encoding": {"y": {"field": "v2", "type": "quantitative"}}},
                    {"data": {"name": "g_band"}, "transform": [{"filter": "datum.w >= 16"}], "mark": {"type": "line", "color": "#F0142D", "strokeWidth": 4.5, "clip": true}},
                    {"data": {"name": "g_fit"}, "mark": {"type": "line", "color": "#8B1212", "strokeWidth": 5, "strokeDash": [12, 9], "clip": true}},
                    {"data": {"name": "g_dots"}, "mark": {"type": "circle", "color": "#EE6E85", "size": 55, "opacity": 1}}
                  ]
                },
                {"data": {"values": [{}]}, "mark": {"type": "text", "color": "black", "fontSize": 28, "align": "center", "baseline": "middle"}, "encoding": {"x": {"datum": 13.7}, "y": {"datum": 0.89}, "text": {"value": "(g)"}}},
                {"data": {"values": [{}]}, "mark": {"type": "text", "color": "#F0142D", "fontSize": 31, "fontWeight": "bold", "align": "right", "baseline": "middle"}, "encoding": {"x": {"datum": 75.5}, "y": {"datum": 0.81}, "text": {"value": "15 μm, 60 K, 1.5 ps"}}}
              ]
            }
          ]
        }
      ]
    },
    {
      "bounds": "flush",
      "spacing": 144,
      "hconcat": [
        {
          "width": 526, "height": 220,
          "layer": [
            {
              "encoding": {
                "x": {"field": "w", "type": "quantitative", "scale": {"domain": [10, 80], "nice": false, "zero": false}, "axis": {"values": [10, 20, 30, 40, 50, 60, 70, 80], "title": "Wavemunber (cm⁻¹)", "titlePadding": 5}},
                "y": {"field": "v", "type": "quantitative", "scale": {"domain": [0, 50], "nice": false, "zero": false}, "axis": {"values": [20, 40], "title": "σ₁ (Ω⁻¹cm⁻¹)", "titleX": -51}}
              },
              "layer": [
                {"data": {"name": "h_band"}, "mark": {"type": "area", "color": "#F49AA8", "opacity": 0.8, "clip": true}, "encoding": {"y2": {"field": "v2"}}},
                {"data": {"name": "h_band"}, "mark": {"type": "line", "color": "#999999", "strokeWidth": 4.5, "clip": true}, "encoding": {"y": {"field": "v2", "type": "quantitative"}}},
                {"data": {"name": "h_band"}, "transform": [{"filter": "datum.w >= 16"}], "mark": {"type": "line", "color": "#F0142D", "strokeWidth": 5, "clip": true}},
                {"data": {"name": "h_fit"}, "mark": {"type": "line", "color": "#8B1212", "strokeWidth": 5, "strokeDash": [12, 9], "clip": true}},
                {"data": {"name": "h_dots"}, "mark": {"type": "circle", "color": "#EE6E85", "size": 55, "opacity": 1}}
              ]
            },
            {"data": {"values": [{}]}, "mark": {"type": "text", "color": "black", "fontSize": 28, "align": "center", "baseline": "middle"}, "encoding": {"x": {"datum": 13.9}, "y": {"datum": 44.8}, "text": {"value": "(h)"}}},
            {"data": {"values": [{}]}, "mark": {"type": "text", "color": "#F0142D", "fontSize": 31, "fontWeight": "bold", "align": "right", "baseline": "middle"}, "encoding": {"x": {"datum": 78.1}, "y": {"datum": 44.1}, "text": {"value": "15 μm, 60 K, 1.5 ps"}}}
          ]
        },
        {
          "width": 525, "height": 220,
          "layer": [
            {
              "encoding": {
                "x": {"field": "w", "type": "quantitative", "scale": {"domain": [10, 80], "nice": false, "zero": false}, "axis": {"values": [10, 20, 30, 40, 50, 60, 70, 80], "title": "Wavemunber (cm⁻¹)", "titlePadding": 6}},
                "y": {"field": "v", "type": "quantitative", "scale": {"domain": [-30.2, 2], "nice": false, "zero": false}, "axis": {"values": [-20, -10, 0], "title": "σ₂ (Ω⁻¹cm⁻¹)", "titleX": -55, "labelExpr": "datum.value < 0 ? '-' + format(-datum.value, 'd') : format(datum.value, 'd')"}}
              },
              "layer": [
                {"data": {"name": "i_band"}, "mark": {"type": "area", "color": "#F49AA8", "opacity": 0.8, "clip": true}, "encoding": {"y2": {"field": "v2"}}},
                {"data": {"name": "i_band"}, "mark": {"type": "line", "color": "#999999", "strokeWidth": 4.5, "clip": true}, "encoding": {"y": {"field": "v2", "type": "quantitative"}}},
                {"data": {"name": "i_band"}, "transform": [{"filter": "datum.w >= 16.3"}], "mark": {"type": "line", "color": "#F0142D", "strokeWidth": 4.5, "clip": true}},
                {"data": {"name": "i_fit"}, "mark": {"type": "line", "color": "#8B1212", "strokeWidth": 5, "strokeDash": [12, 9], "clip": true}},
                {"data": {"name": "i_dots"}, "mark": {"type": "circle", "color": "#EE6E85", "size": 55, "opacity": 1}}
              ]
            },
            {"data": {"values": [{}]}, "mark": {"type": "text", "color": "black", "fontSize": 28, "align": "center", "baseline": "middle"}, "encoding": {"x": {"datum": 12.7}, "y": {"datum": -26.3}, "text": {"value": "(i)"}}},
            {"data": {"values": [{}]}, "mark": {"type": "text", "color": "#F0142D", "fontSize": 31, "fontWeight": "bold", "align": "right", "baseline": "middle"}, "encoding": {"x": {"datum": 78.3}, "y": {"datum": -2.0}, "text": {"value": "15 μm, 60 K, 1.5 ps"}}}
          ]
        }
      ]
    }
  ]
}
